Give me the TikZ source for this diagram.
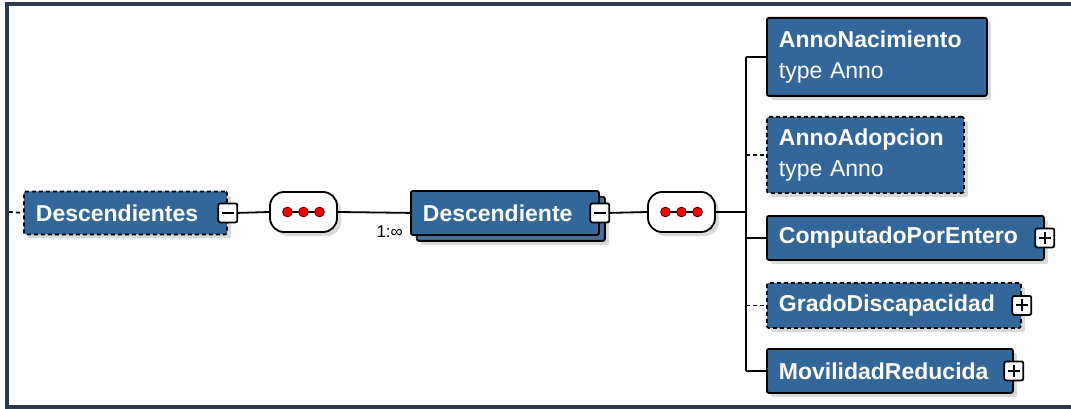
\documentclass[tikz,border=0pt]{standalone}
\usepackage{fontspec}
\setmainfont{Liberation Sans}
\usetikzlibrary{shadows}

\definecolor{xsdblue}{HTML}{336699}
\definecolor{framegray}{HTML}{2E3A4C}

\tikzset{
  link/.style={line width=1.8pt},
  optlink/.style={link, dash pattern=on 4pt off 3pt},
  elem/.style={draw=black, line width=1.8pt, fill=xsdblue, text=white,
    rounded corners=2pt, anchor=north west, align=left,
    inner xsep=12pt, inner ysep=0pt, font=\fontsize{23}{31}\selectfont,
    drop shadow={shadow xshift=4pt, shadow yshift=-4pt, opacity=0.3}},
  optelem/.style={elem, dash pattern=on 4pt off 3pt},
  seqbox/.style={draw=black, line width=1.8pt, fill=white, rounded corners=14pt,
    minimum width=67pt, minimum height=40pt,
    drop shadow={shadow xshift=4pt, shadow yshift=-4pt, opacity=0.3}},
  seqdot/.style={fill=red, draw=red!45!black, line width=1pt},
  togglebox/.style={draw=black, line width=1.8pt, fill=white, rounded corners=2pt,
    minimum size=19pt, inner sep=0pt},
  collapsebox/.style={togglebox, path picture={
    \draw[line width=2pt] ([xshift=-6pt]path picture bounding box.center)
      -- ([xshift=6pt]path picture bounding box.center);}},
  expandbox/.style={togglebox, path picture={
    \draw[line width=2pt] ([xshift=-6pt]path picture bounding box.center)
      -- ([xshift=6pt]path picture bounding box.center);
    \draw[line width=2pt] ([yshift=-6pt]path picture bounding box.center)
      -- ([yshift=6pt]path picture bounding box.center);}},
  card/.style={font=\fontsize{17}{17}\selectfont, inner sep=0pt}
}

\begin{document}
\begin{tikzpicture}[x=1pt,y=-1pt]

\useasboundingbox (0,0) rectangle (1071,409);

\fill [framegray] (5,2) rectangle (1071,6);
\fill [framegray] (5,2) rectangle (9,409);
\fill [framegray] (5,405) rectangle (1071,409);

\coordinate (in) at (9,212);
\coordinate (fork) at (746,212);

\node [optelem, text width=179pt, minimum height=43pt] (descs) at (23,190.5) {\bfseries Descendientes};
\node [collapsebox] (descsbox) at (descs.east) {};

\node [seqbox] (seq1) at (303.5,212) {};

\node [elem, minimum width=188pt, minimum height=44pt] (descback) at (416,196) {};
\node [elem, text width=164pt, minimum height=44pt] (desc) at (410,190) {\bfseries Descendiente};
\node [collapsebox] (descbox) at (desc.east) {};
\node [card, anchor=north east] (mult) at (403,226) {1:∞};

\node [seqbox] (seq2) at (681.5,212) {};

\node [elem, text width=196pt, minimum height=78pt] (nacim) at (766,17) {{\bfseries AnnoNacimiento}\\type Anno};
\node [optelem, text width=173pt, minimum height=76pt] (adopc) at (766,116) {{\bfseries AnnoAdopcion}\\type Anno};
\node [elem, text width=253pt, minimum height=44pt] (computado) at (766,215) {\bfseries ComputadoPorEntero};
\node [expandbox] (computadobox) at (computado.east) {};
\node [optelem, text width=230pt, minimum height=45pt] (grado) at (766,282) {\bfseries GradoDiscapacidad};
\node [expandbox] (gradobox) at (grado.east) {};
\node [elem, text width=222pt, minimum height=44pt] (movil) at (766,348) {\bfseries MovilidadReducida};
\node [expandbox] (movilbox) at (movil.east) {};

\foreach \s in {seq1,seq2} {
  \draw [link] ([xshift=-16pt]\s.center) -- ([xshift=16pt]\s.center);
  \foreach \d in {-16,0,16}
    \filldraw [seqdot] ([xshift=\d pt]\s.center) circle (4.8pt);
}

\draw [optlink] (in) -- (descs.west);
\draw [link] (descsbox.east) -- (seq1.west);
\draw [link] (seq1.east) -- (desc.west);
\draw [link] (descbox.east) -- (seq2.west);
\draw [link] (seq2.east) -- (fork);
\draw [link] (fork |- nacim.west) -- (fork |- movil.west);

\draw [link] (fork |- nacim.west) -- (nacim.west);
\draw [optlink] (fork |- adopc.west) -- (adopc.west);
\draw [link] (fork |- computado.west) -- (computado.west);
\draw [optlink] (fork |- grado.west) -- (grado.west);
\draw [link] (fork |- movil.west) -- (movil.west);

\end{tikzpicture}
\end{document}
